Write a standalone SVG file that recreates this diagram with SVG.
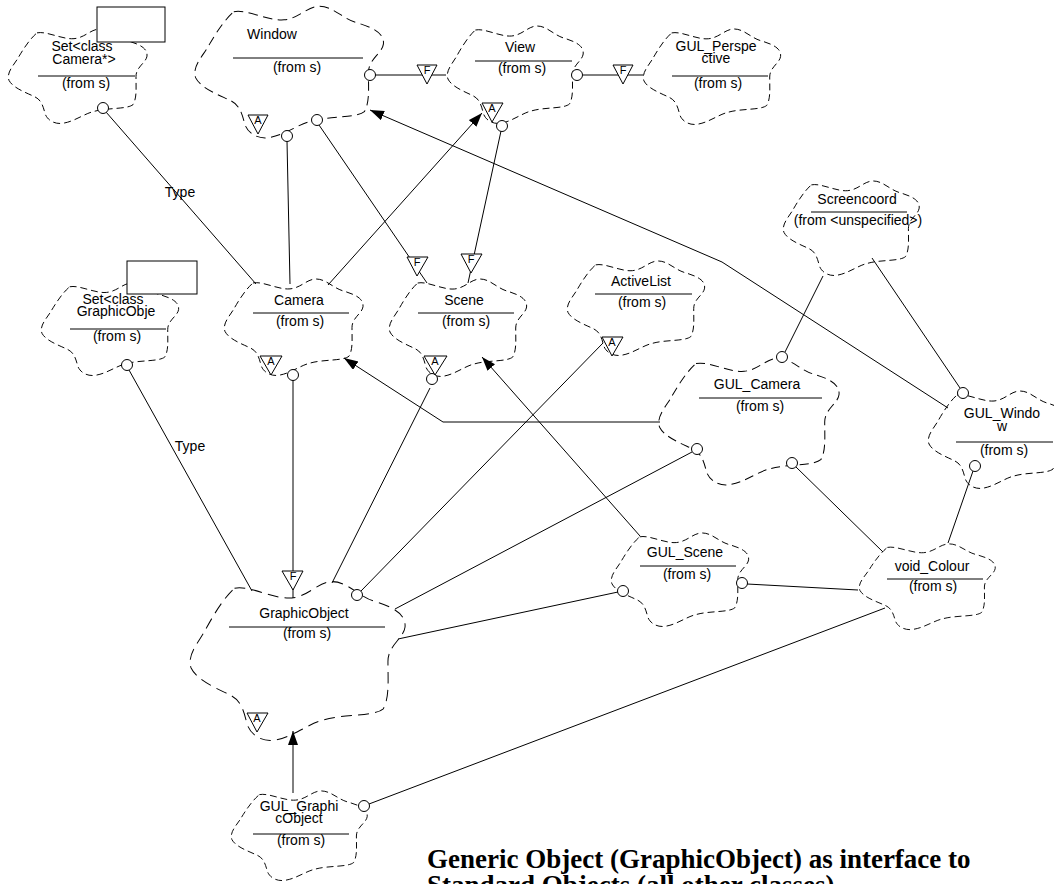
<svg xmlns="http://www.w3.org/2000/svg" xmlns:xlink="http://www.w3.org/1999/xlink" width="1054" height="884" viewBox="0 0 1054 884">
  <style>
    .cloud { fill: #ffffff; stroke: #000000; stroke-width: 1; stroke-dasharray: 7 4; }
    .sep { stroke: #000000; stroke-width: 1; }
    .lbl { font-family: "Liberation Sans", Arial, sans-serif; font-size: 14px; fill: #000000; text-anchor: middle; }
    .conn { fill: none; stroke: #000000; stroke-width: 1; }
    .lolly { fill: #ffffff; stroke: #000000; stroke-width: 1; }
    .adorn { fill: #ffffff; stroke: #000000; stroke-width: 1; }
    .adtxt { font-family: "Liberation Sans", Arial, sans-serif; font-size: 11px; fill: #000000; text-anchor: middle; }
    .box { fill: #ffffff; stroke: #000000; stroke-width: 1; }
    .note { font-family: "Liberation Serif", "Times New Roman", serif; font-size: 27px; font-weight: bold; fill: #000000; }
  </style>
  <defs>
    <!-- Booch class cloud, drawn in a 140 x 100 box -->
    <path id="cloudShape" d="M30,5 C40,3 55,12 67,11 C78,10 84,1 93,1 C103,1 110,10 120,13 C130,16 141,20 140,29 C139,36 129,40 129,50 C129,62 130,72 126,79 C120,84 100,82 87,86 C78,88 68,96 57,98 C48,100 40,95 38,88 C36,80 34,74 28,71 C20,67 6,62 2,54 C-1,46 7,38 11,31 C15,24 22,12 30,5 Z"/>
    <marker id="arrow" markerUnits="userSpaceOnUse" markerWidth="16" markerHeight="12" refX="14" refY="5" orient="auto">
      <path d="M0,0 L14,5 L0,10 Z" fill="#000000"/>
    </marker>
  </defs>

  <rect x="0" y="0" width="1054" height="884" fill="#ffffff"/>

  <!-- class clouds -->
  <g id="set-camera">
    <use xlink:href="#cloudShape" class="cloud" transform="translate(7,28) scale(1,0.97)"/>
    <rect class="box" x="97" y="7" width="68" height="35"/>
    <text class="lbl"><tspan x="82" y="51">Set&lt;class</tspan><tspan x="84" y="64">Camera*&gt;</tspan></text>
    <line class="sep" x1="38" y1="76" x2="135" y2="76"/>
    <text class="lbl" x="86" y="88">(from s)</text>
  </g>

  <g id="window">
    <use xlink:href="#cloudShape" class="cloud" transform="translate(193,5) scale(1.36,1.35)" style="stroke-width:0.74"/>
    <text class="lbl" x="272" y="39">Window</text>
    <line class="sep" x1="233" y1="58" x2="363" y2="58"/>
    <text class="lbl" x="297" y="72">(from s)</text>
  </g>

  <g id="view">
    <use xlink:href="#cloudShape" class="cloud" transform="translate(446,25) scale(0.98,1)"/>
    <text class="lbl" x="520" y="52">View</text>
    <line class="sep" x1="475" y1="61" x2="572" y2="61"/>
    <text class="lbl" x="522" y="73">(from s)</text>
  </g>

  <g id="gul-perspective">
    <use xlink:href="#cloudShape" class="cloud" transform="translate(642,28) scale(0.99,0.98)"/>
    <text class="lbl"><tspan x="716" y="51">GUL_Perspe</tspan><tspan x="716" y="63">ctive</tspan></text>
    <line class="sep" x1="672" y1="76" x2="768" y2="76"/>
    <text class="lbl" x="718" y="88">(from s)</text>
  </g>

  <g id="camera">
    <use xlink:href="#cloudShape" class="cloud" transform="translate(223,278) scale(1,0.99)"/>
    <text class="lbl" x="299" y="305">Camera</text>
    <line class="sep" x1="253" y1="313" x2="349" y2="313"/>
    <text class="lbl" x="300" y="326">(from s)</text>
  </g>

  <g id="scene">
    <use xlink:href="#cloudShape" class="cloud" transform="translate(388,278) scale(0.99,1)"/>
    <text class="lbl" x="464" y="305">Scene</text>
    <line class="sep" x1="418" y1="313" x2="514" y2="313"/>
    <text class="lbl" x="466" y="326">(from s)</text>
  </g>

  <g id="active-list">
    <use xlink:href="#cloudShape" class="cloud" transform="translate(566,260) scale(0.99,0.97)"/>
    <text class="lbl" x="641" y="286">ActiveList</text>
    <line class="sep" x1="595" y1="294" x2="692" y2="294"/>
    <text class="lbl" x="642" y="307">(from s)</text>
  </g>

  <g id="set-graphicobject">
    <use xlink:href="#cloudShape" class="cloud" transform="translate(40,282) scale(0.99,0.95)"/>
    <rect class="box" x="127" y="261" width="70" height="33"/>
    <text class="lbl"><tspan x="113" y="304">Set&lt;class</tspan><tspan x="116" y="316">GraphicObje</tspan></text>
    <line class="sep" x1="70" y1="329" x2="166" y2="329"/>
    <text class="lbl" x="117" y="341">(from s)</text>
  </g>

  <g id="screencoord">
    <use xlink:href="#cloudShape" class="cloud" transform="translate(782,180) scale(0.98,0.97)"/>
    <text class="lbl" x="857" y="204">Screencoord</text>
    <line class="sep" x1="811" y1="212" x2="907" y2="212"/>
    <text class="lbl" x="858" y="225">(from &lt;unspecified&gt;)</text>
  </g>

  <g id="gul-camera">
    <use xlink:href="#cloudShape" class="cloud" transform="translate(657,357) scale(1.3,1.3)" style="stroke-width:0.77"/>
    <text class="lbl" x="757" y="389">GUL_Camera</text>
    <line class="sep" x1="699" y1="398" x2="822" y2="398"/>
    <text class="lbl" x="760" y="411">(from s)</text>
  </g>

  <g id="gul-window">
    <use xlink:href="#cloudShape" class="cloud" transform="translate(927,390)"/>
    <text class="lbl"><tspan x="1002" y="418">GUL_Windo</tspan><tspan x="1002" y="431">w</tspan></text>
    <line class="sep" x1="956" y1="442" x2="1053" y2="442"/>
    <text class="lbl" x="1004" y="455">(from s)</text>
  </g>

  <g id="gul-scene">
    <use xlink:href="#cloudShape" class="cloud" transform="translate(610,532) scale(0.99,0.96)"/>
    <text class="lbl" x="685" y="557">GUL_Scene</text>
    <line class="sep" x1="640" y1="566" x2="736" y2="566"/>
    <text class="lbl" x="687" y="579">(from s)</text>
  </g>

  <g id="void-colour">
    <use xlink:href="#cloudShape" class="cloud" transform="translate(858,543) scale(0.98,0.88)"/>
    <text class="lbl" x="932" y="571">void_Colour</text>
    <line class="sep" x1="887" y1="579" x2="983" y2="579"/>
    <text class="lbl" x="933" y="591">(from s)</text>
  </g>

  <g id="graphicobject">
    <use xlink:href="#cloudShape" class="cloud" transform="translate(188,580) scale(1.55,1.63)" style="stroke-width:0.63"/>
    <text class="lbl" x="304" y="618">GraphicObject</text>
    <line class="sep" x1="229" y1="627" x2="385" y2="627"/>
    <text class="lbl" x="307" y="638">(from s)</text>
  </g>

  <g id="gul-graphicobject">
    <use xlink:href="#cloudShape" class="cloud" transform="translate(230,790) scale(0.98,0.92)"/>
    <text class="lbl"><tspan x="299" y="811">GUL_Graphi</tspan><tspan x="299" y="823">cObject</tspan></text>
    <line class="sep" x1="253" y1="834" x2="349" y2="834"/>
    <text class="lbl" x="301" y="845">(from s)</text>
  </g>

  <!-- relationships -->
  <g id="connectors">
    <path class="conn" d="M106,112 L256,284"/>
    <path class="conn" d="M287,141 L290,284"/>
    <path class="conn" d="M319,125 L427,283"/>
    <path class="conn" d="M375,75 L446,75"/>
    <path class="conn" d="M583,75 L643,75"/>
    <path class="conn" d="M501,131 L468,283"/>
    <path class="conn" d="M328,285 L482,113" marker-end="url(#arrow)"/>
    <path class="conn" d="M948,408 L722,262 L370,110" marker-end="url(#arrow)"/>
    <path class="conn" d="M823,276 L785,352"/>
    <path class="conn" d="M872,258 L960,388"/>
    <path class="conn" d="M660,422 L443,422 L344,358" marker-end="url(#arrow)"/>
    <path class="conn" d="M692,452 L395,609"/>
    <path class="conn" d="M796,467 L883,552"/>
    <path class="conn" d="M973,471 L948,543"/>
    <path class="conn" d="M747,584 L858,590"/>
    <path class="conn" d="M618,592 L398,639"/>
    <path class="conn" d="M640,536 L482,357" marker-end="url(#arrow)"/>
    <path class="conn" d="M603,343 L361,591"/>
    <path class="conn" d="M430,388 L332,583"/>
    <path class="conn" d="M293,380 L293,598"/>
    <path class="conn" d="M129,370 L252,591"/>
    <path class="conn" d="M885,608 L369,804"/>
    <path class="conn" d="M293,793 L293,731" marker-end="url(#arrow)"/>

    <text class="lbl" x="180" y="197">Type</text>
    <text class="lbl" x="190" y="451">Type</text>

    <!-- has-relationship ends -->
    <circle class="lolly" cx="103" cy="108" r="5.5"/>
    <circle class="lolly" cx="287" cy="136" r="5.5"/>
    <circle class="lolly" cx="317" cy="120" r="5.5"/>
    <circle class="lolly" cx="370" cy="75" r="5.5"/>
    <circle class="lolly" cx="577" cy="75" r="5.5"/>
    <circle class="lolly" cx="502" cy="126" r="5.5"/>
    <circle class="lolly" cx="293" cy="375" r="5.5"/>
    <circle class="lolly" cx="432" cy="379" r="5.5"/>
    <circle class="lolly" cx="127" cy="365" r="5.5"/>
    <circle class="lolly" cx="782" cy="357" r="5.5"/>
    <circle class="lolly" cx="697" cy="449" r="5.5"/>
    <circle class="lolly" cx="792" cy="463" r="5.5"/>
    <circle class="lolly" cx="963" cy="393" r="5.5"/>
    <circle class="lolly" cx="975" cy="466" r="5.5"/>
    <circle class="lolly" cx="623" cy="591" r="5.5"/>
    <circle class="lolly" cx="742" cy="583" r="5.5"/>
    <circle class="lolly" cx="357" cy="595" r="5.5"/>
    <circle class="lolly" cx="364" cy="806" r="5.5"/>

    <!-- friend (F) and abstract (A) adornments -->
    <polygon class="adorn" points="417,65 437,65 427,84"/>
    <text class="adtxt" x="427" y="74">F</text>
    <polygon class="adorn" points="613,65 633,65 623,84"/>
    <text class="adtxt" x="623" y="74">F</text>
    <polygon class="adorn" points="407,257 428,257 417,276"/>
    <text class="adtxt" x="417" y="266">F</text>
    <polygon class="adorn" points="461,254 482,254 471,273"/>
    <text class="adtxt" x="471" y="263">F</text>
    <polygon class="adorn" points="282,571 303,571 293,590"/>
    <text class="adtxt" x="293" y="580">F</text>

    <polygon class="adorn" points="248,115 268,115 258,134"/>
    <text class="adtxt" x="258" y="124">A</text>
    <polygon class="adorn" points="482,103 503,103 492,122"/>
    <text class="adtxt" x="492" y="112">A</text>
    <polygon class="adorn" points="260,356 282,356 271,375"/>
    <text class="adtxt" x="271" y="365">A</text>
    <polygon class="adorn" points="424,356 447,356 435,375"/>
    <text class="adtxt" x="435" y="365">A</text>
    <polygon class="adorn" points="602,337 623,337 612,356"/>
    <text class="adtxt" x="612" y="346">A</text>
    <polygon class="adorn" points="247,713 268,713 257,732"/>
    <text class="adtxt" x="257" y="722">A</text>
  </g>

  <!-- diagram caption -->
  <g id="caption">
    <text class="note"><tspan x="427" y="868">Generic Object (GraphicObject) as interface to</tspan><tspan x="427" y="894">Standard Objects (all other classes)</tspan></text>
  </g>
</svg>
